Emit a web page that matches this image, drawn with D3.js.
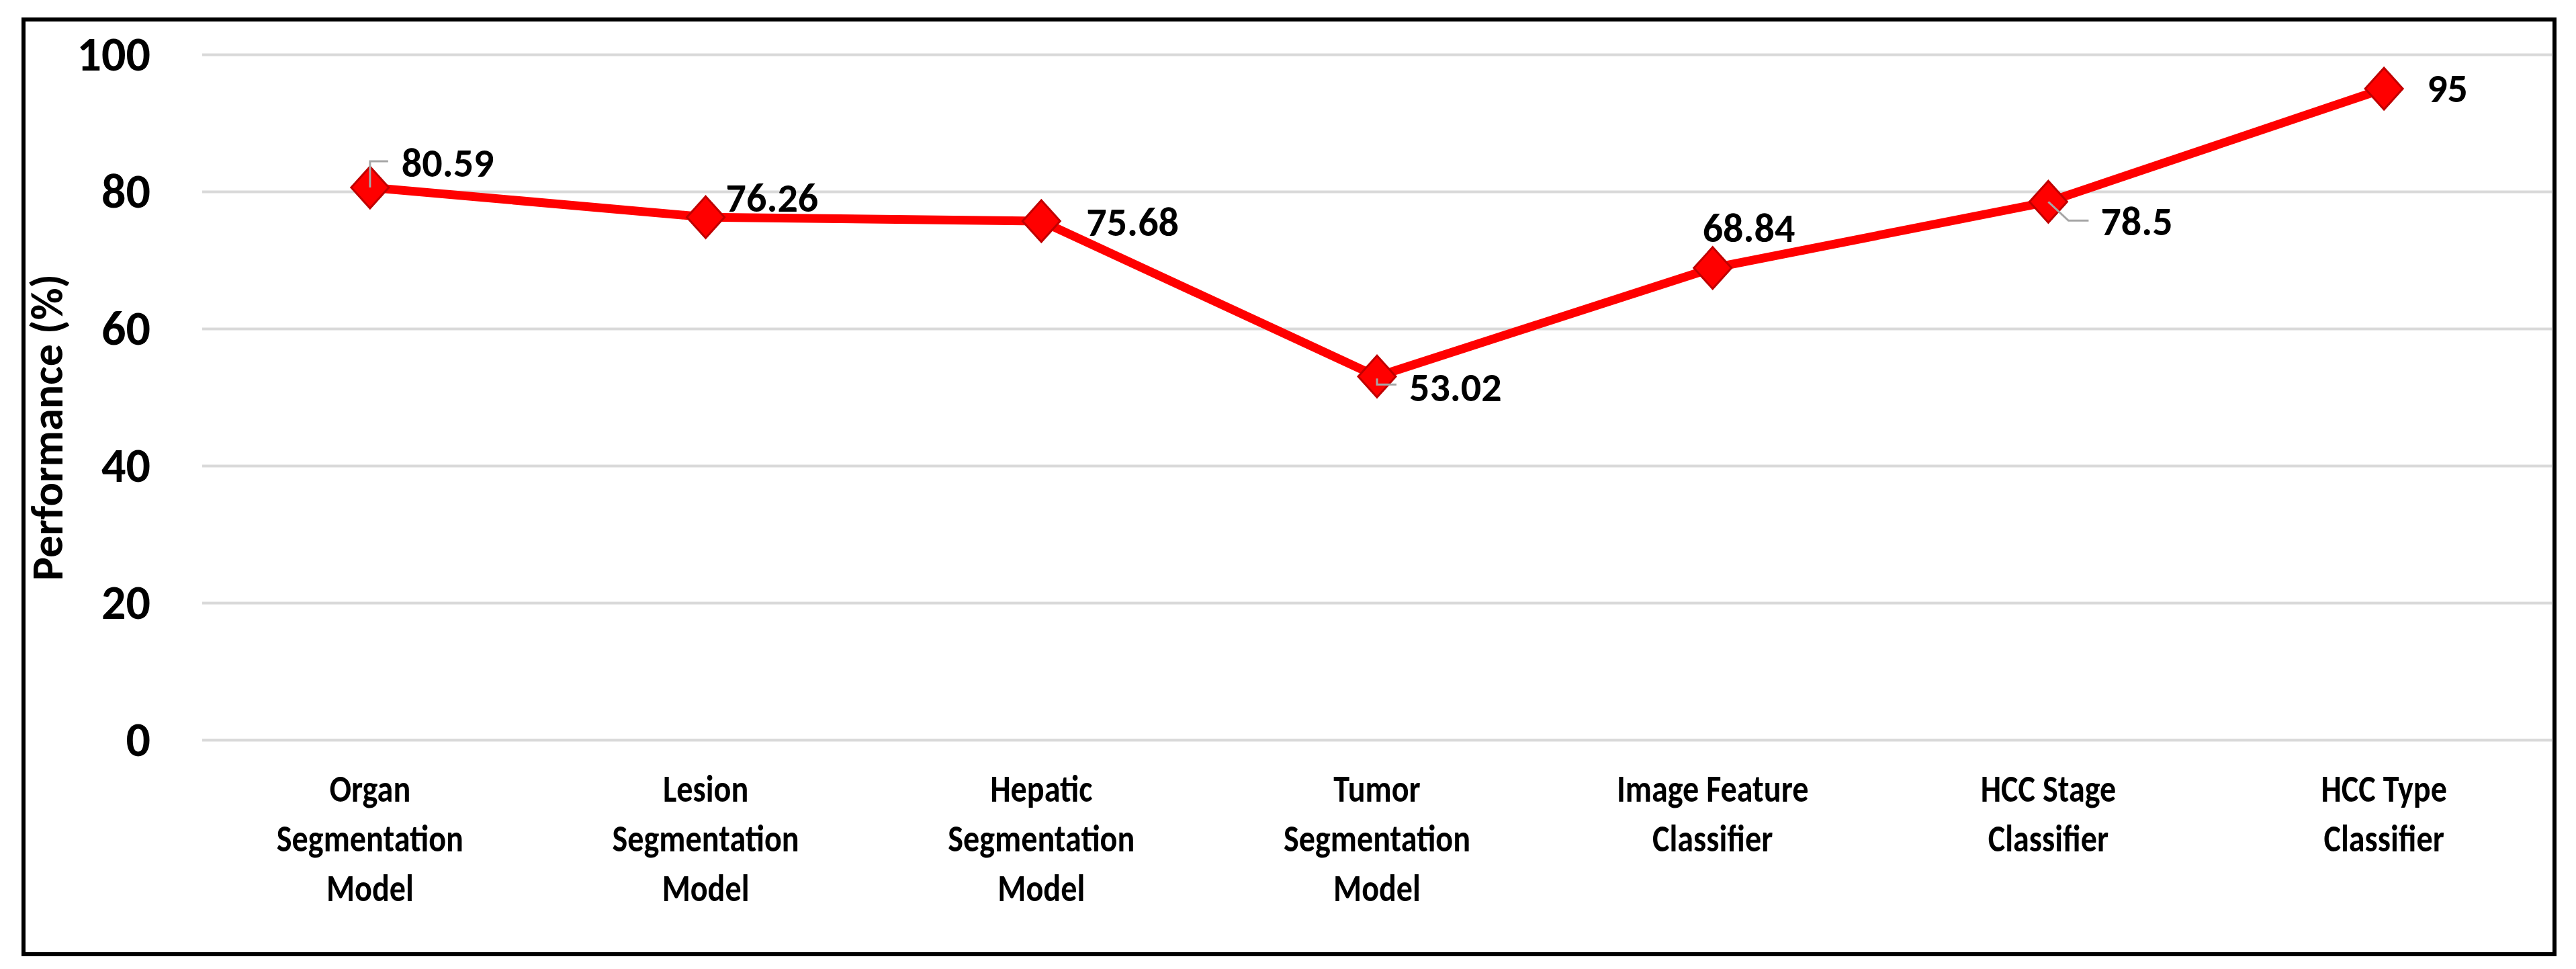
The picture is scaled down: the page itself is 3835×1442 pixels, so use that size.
<!DOCTYPE html>
<html>
<head>
<meta charset="utf-8">
<script src="https://cdn.jsdelivr.net/npm/d3@7"></script>
<style>
  body { margin: 0; background: #fff; }
  text { font-family: Carlito, Lato, sans-serif; font-weight: bold; fill: #000; }
</style>
</head>
<body>
<div id="chart"></div>
<script>
// data
var categories = [
  "Organ Segmentation Model",
  "Lesion Segmentation Model",
  "Hepatic Segmentation Model",
  "Tumor Segmentation Model",
  "Image Feature Classifier",
  "HCC Stage Classifier",
  "HCC Type Classifier"
];
var categoryLines = [
  ["Organ", "Segmentation", "Model"],
  ["Lesion", "Segmentation", "Model"],
  ["Hepatic", "Segmentation", "Model"],
  ["Tumor", "Segmentation", "Model"],
  ["Image Feature", "Classifier"],
  ["HCC Stage", "Classifier"],
  ["HCC Type", "Classifier"]
];
var performance = [80.59, 76.26, 75.68, 53.02, 68.84, 78.5, 95];
var yTicks = [0, 20, 40, 60, 80, 100];
var yLabel = "Performance (%)";

// where each data label sits relative to its point (dx, baseline dy, leader path)
var labelLayout = [
  {dx: 47, dy: -16, leader: "M0,0V-39H27"},
  {dx: 30, dy: -8, leader: null},
  {dx: 67, dy: 22, leader: null},
  {dx: 48, dy: 37, leader: "M0,3V12H29"},
  {dx: -15, dy: -39, leader: null},
  {dx: 78, dy: 50, leader: "M0,0L30,28H60"},
  {dx: 64, dy: 20, leader: null}
];

var W = 3835, H = 1442;
var plot = {left: 301, right: 3799, top: 81, bottom: 1101};

var svg = d3.select("#chart")
  .append("svg")
    .attr("width", W)
    .attr("height", H);

svg.append("rect")
  .attr("width", W).attr("height", H)
  .attr("fill", "#fff");

// outer frame
svg.append("rect")
  .attr("x", 35).attr("y", 29)
  .attr("width", 3768).attr("height", 1391)
  .attr("fill", "none")
  .attr("stroke", "#000")
  .attr("stroke-width", 6);

var x = d3.scalePoint()
  .domain(categories)
  .range([plot.left, plot.right])
  .padding(0.5);

var y = d3.scaleLinear()
  .domain([0, 100])
  .range([plot.bottom, plot.top]);

// gridlines
svg.append("g")
  .attr("transform", `translate(${plot.left},0)`)
  .call(d3.axisLeft(y).tickValues(yTicks).tickSize(-(plot.right - plot.left)).tickFormat(""))
  .call(g => g.select(".domain").remove())
  .call(g => g.selectAll("line").attr("stroke", "#d9d9d9").attr("stroke-width", 4));

// y tick labels
svg.append("g")
  .attr("transform", `translate(${plot.left},0)`)
  .call(d3.axisLeft(y).tickValues(yTicks).tickSize(0).tickPadding(77))
  .call(g => g.select(".domain").remove())
  .call(g => g.selectAll("text")
    .attr("font-family", "Carlito, Lato, sans-serif")
    .attr("font-weight", "bold")
    .attr("font-size", 72)
    .attr("fill", "#000"));

// y axis title
svg.append("text")
  .attr("transform", "translate(93,636) rotate(-90)")
  .attr("text-anchor", "middle")
  .attr("font-size", 66)
  .text(yLabel);

// category labels (a bit narrow, as in the original)
var catG = svg.append("g");
categoryLines.forEach(function(lines, i) {
  var t = catG.append("text")
    .attr("transform", `translate(${x(categories[i])},1193) scale(0.86,1)`)
    .attr("text-anchor", "middle")
    .attr("font-size", 56);
  lines.forEach(function(l, j) {
    t.append("tspan").attr("x", 0).attr("y", j * 74).text(l);
  });
});

var pts = categories.map((c, i) => ({c: c, v: performance[i], lab: labelLayout[i]}));

// the line
var line = d3.line()
  .x(d => x(d.c))
  .y(d => y(d.v));

svg.append("path")
  .datum(pts)
  .attr("d", line)
  .attr("fill", "none")
  .attr("stroke", "#ff0000")
  .attr("stroke-width", 13)
  .attr("stroke-linejoin", "round");

// diamond markers
svg.selectAll(".marker")
  .data(pts)
  .enter()
  .append("path")
    .attr("class", "marker")
    .attr("transform", d => `translate(${x(d.c)},${y(d.v)})`)
    .attr("d", "M0,-31L28,0L0,31L-28,0Z")
    .attr("fill", "#ff0000")
    .attr("stroke", "#c00000")
    .attr("stroke-width", 3);

// leader lines
svg.selectAll(".leader")
  .data(pts.filter(d => d.lab.leader))
  .enter()
  .append("path")
    .attr("class", "leader")
    .attr("transform", d => `translate(${x(d.c)},${y(d.v)})`)
    .attr("d", d => d.lab.leader)
    .attr("fill", "none")
    .attr("stroke", "#a6a6a6")
    .attr("stroke-width", 3);

// value labels
svg.selectAll(".vlabel")
  .data(pts)
  .enter()
  .append("text")
    .attr("class", "vlabel")
    .attr("x", d => x(d.c) + d.lab.dx)
    .attr("y", d => y(d.v) + d.lab.dy)
    .attr("font-size", 60)
    .text(d => d.v);
</script>
</body>
</html>
